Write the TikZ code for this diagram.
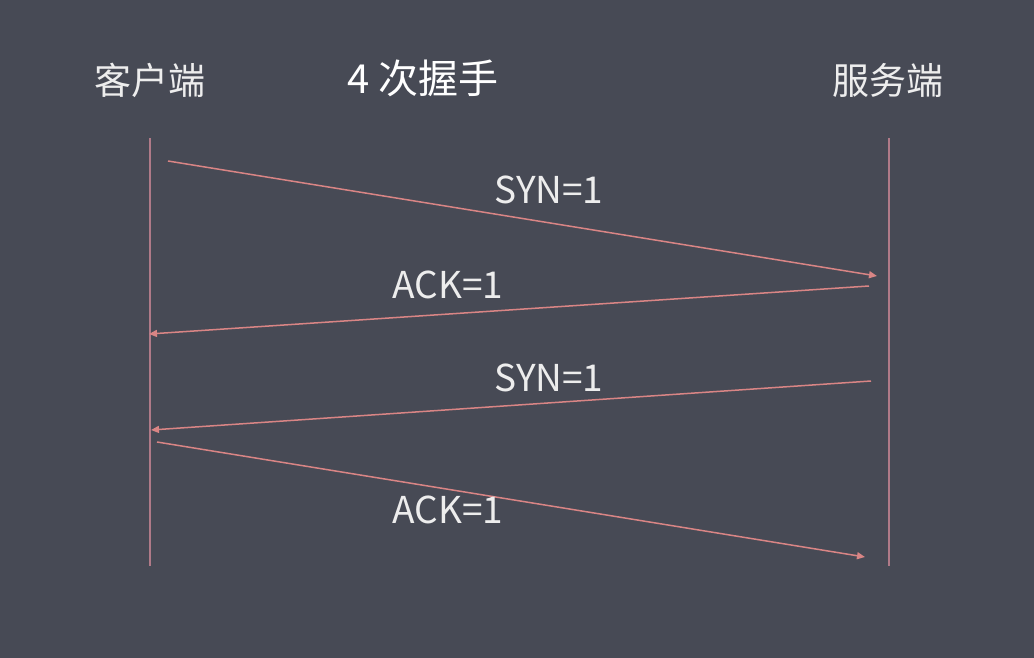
\documentclass[tikz,border=0pt]{standalone}
\usepackage{fontspec}
\setmainfont{Noto Sans CJK SC}
\usepackage{tikz}
\usetikzlibrary{arrows.meta}
\definecolor{BgSlate}{HTML}{474A55}
\definecolor{MsgRed}{HTML}{D98585}
\definecolor{LifeCol}{HTML}{B07A88}
\definecolor{TxtCol}{HTML}{EDEDED}

\begin{document}
\begin{tikzpicture}[x=1pt,y=-1pt,
    party/.style={font=\fontsize{37}{42}\selectfont, TxtCol},
    msg/.style={MsgRed, line width=1.5pt, -{Triangle[length=8pt,width=7pt]}},
    msglabel/.style={font=\fontsize{37}{42}\selectfont, TxtCol}]
  \fill[BgSlate] (0,0) rectangle (1034,658);
  \useasboundingbox (0,0) rectangle (1034,658);
  % participants
  \node[party] (client) at (150,80) {客户端};
  \node[party] (server) at (888,80) {服务端};
  \node[party, white, font=\fontsize{40}{46}\selectfont] (title) at (423,78) {4 次握手};
  % lifelines
  \coordinate (cTop) at (150,138);
  \coordinate (cBot) at (150,566);
  \coordinate (sTop) at (889,138);
  \coordinate (sBot) at (889,566);
  \draw[LifeCol, line width=1.7pt] (cTop) -- (cBot);
  \draw[LifeCol, line width=1.7pt] (sTop) -- (sBot);
  % message ends
  \coordinate (m1a) at (168,161);
  \coordinate (m1b) at (877,276);
  \coordinate (m2a) at (869,286);
  \coordinate (m2b) at (149,334);
  \coordinate (m3a) at (871,381);
  \coordinate (m3b) at (151,430);
  \coordinate (m4a) at (157,442);
  \coordinate (m4b) at (865,557);
  \draw[msg] (m1a) -- (m1b);
  \draw[msg] (m2a) -- (m2b);
  \draw[msg] (m3a) -- (m3b);
  \draw[msg] (m4a) -- (m4b);
  \node[msglabel] (syn1) at (549,190) {SYN=1};
  \node[msglabel] (ack1) at (448,285) {ACK=1};
  \node[msglabel] (syn2) at (549,378) {SYN=1};
  \node[msglabel] (ack2) at (448,510) {ACK=1};
\end{tikzpicture}
\end{document}
